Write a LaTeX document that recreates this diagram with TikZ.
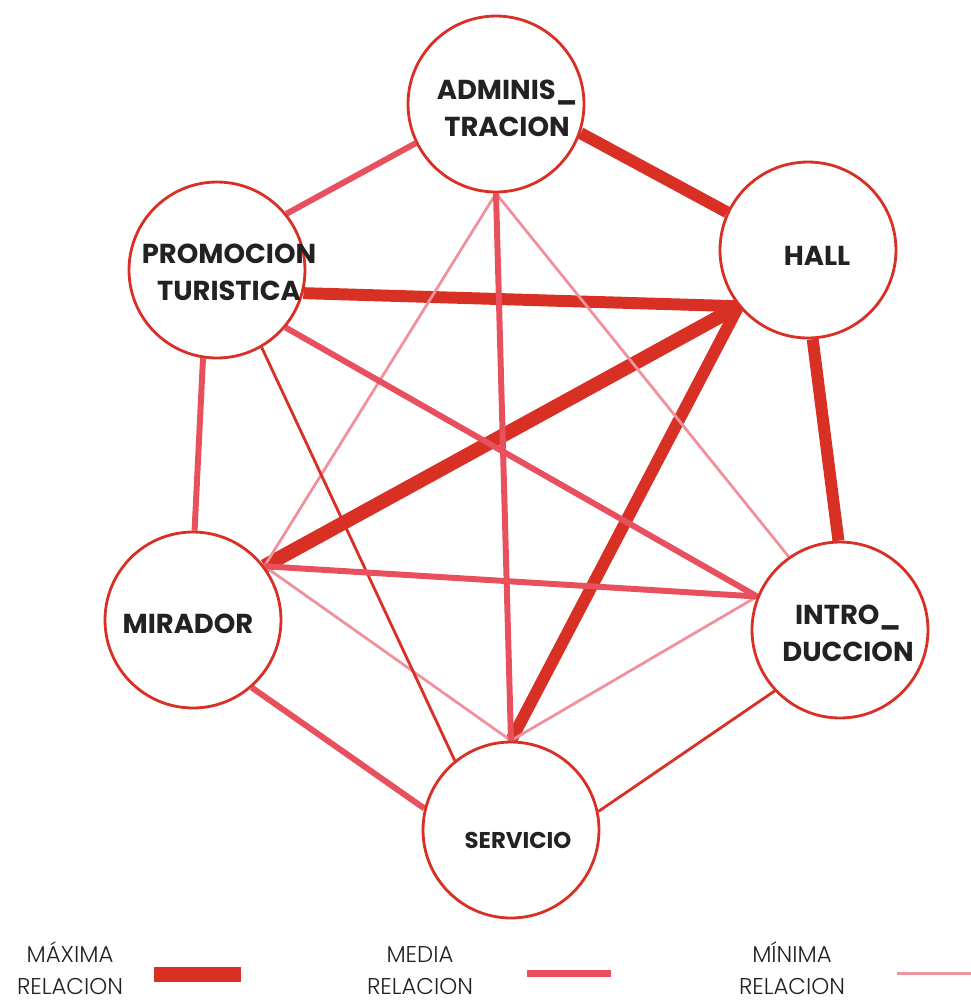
\documentclass[tikz,border=0pt]{standalone}
\usepackage{fontspec}
\setmainfont{Poppins}
\newfontfamily\legfont{Poppins Light}
\usepackage{tikz}
\usetikzlibrary{backgrounds}
\definecolor{relred}{RGB}{217,48,38}
\definecolor{relpink}{RGB}{232,80,94}
\definecolor{relrose}{RGB}{240,146,158}
\definecolor{inkgray}{RGB}{34,34,34}

\begin{document}
\begin{tikzpicture}[x=0.02cm, y=-0.02cm]
    \tikzstyle{place} = [circle, minimum size=3.52cm, inner sep=0pt, draw=relred, line width=1.6pt, fill=white]
    \tikzstyle{tag} = [align=center, text=inkgray, font=\bfseries\fontsize{15.6}{21}\selectfont]
    \tikzstyle{maxrel} = [draw=relred, line width=6.8pt]
    \tikzstyle{medrel} = [draw=relpink, line width=3.4pt]
    \tikzstyle{lowrel} = [draw=relred, line width=1.6pt]
    \tikzstyle{minrel} = [draw=relrose, line width=1.6pt]
    \tikzstyle{legtext} = [align=center, text=inkgray, inner sep=0pt, font=\legfont\fontsize{13}{18.5}\selectfont]

    \useasboundingbox (0,0) rectangle (971,1002);

    \node (adm) [place] at (496,104) {};
    \node (hall) [place] at (808,250) {};
    \node (promo) [place] at (217,270) {};
    \node (mira) [place] at (193,620) {};
    \node (intro) [place] at (840,630) {};
    \node (serv) [place] at (511,830) {};

    \node (adm-t) [tag] at (507,108) {ADMINIS\_\\TRACION};
    \node (hall-t) [tag] at (817,256) {HALL};
    \node (promo-t) [tag] at (229,272) {PROMOCION\\TURISTICA};
    \node (mira-t) [tag] at (188,624) {MIRADOR};
    \node (intro-t) [tag] at (848,633) {INTRO\_\\DUCCION};
    \node (serv-t) [tag, font=\bfseries\fontsize{13}{16}\selectfont] at (518,840) {SERVICIO};

    \begin{pgfonlayer}{background}
        \draw [maxrel] (adm.-19) -- (hall.155);
        \draw [maxrel] (promo.-15) -- (hall.219);
        \draw [maxrel, line width=8pt] (mira.37) -- (hall.219);
        \draw [maxrel] (serv.north) -- (hall.219);
        \draw [maxrel] (hall.-87) -- (intro.91);

        \draw [minrel] (adm.south) -- (mira.37);
        \draw [minrel] (adm.south) -- (intro.125);
        \draw [minrel] (mira.37) -- (serv.north);
        \draw [minrel] (intro.158) -- (serv.north);

        \draw [lowrel] (promo.-60) -- (serv.129);
        \draw [lowrel] (intro.223) -- (serv.12);

        \draw [medrel] (adm.206) -- (promo.39);
        \draw [medrel] (promo.-99) -- (mira.89);
        \draw [medrel] (promo.-40) -- (intro.158);
        \draw [medrel] (adm.south) -- (serv.north);
        \draw [medrel] (mira.37) -- (intro.158);
        \draw [medrel] (mira.-49) -- (serv.166);
    \end{pgfonlayer}

    \node (leg-max) [legtext] at (70,968) {MÁXIMA\\RELACION};
    \node (leg-med) [legtext] at (420,968) {\vphantom{Á}MEDIA\\RELACION};
    \node (leg-min) [legtext] at (792,968) {MÍNIMA\\RELACION};
    \fill [relred] (154,967) rectangle (241,982);
    \fill [relpink] (527,970) rectangle (611,977);
    \fill [relrose] (897,972) rectangle (971,975);
\end{tikzpicture}
\end{document}
